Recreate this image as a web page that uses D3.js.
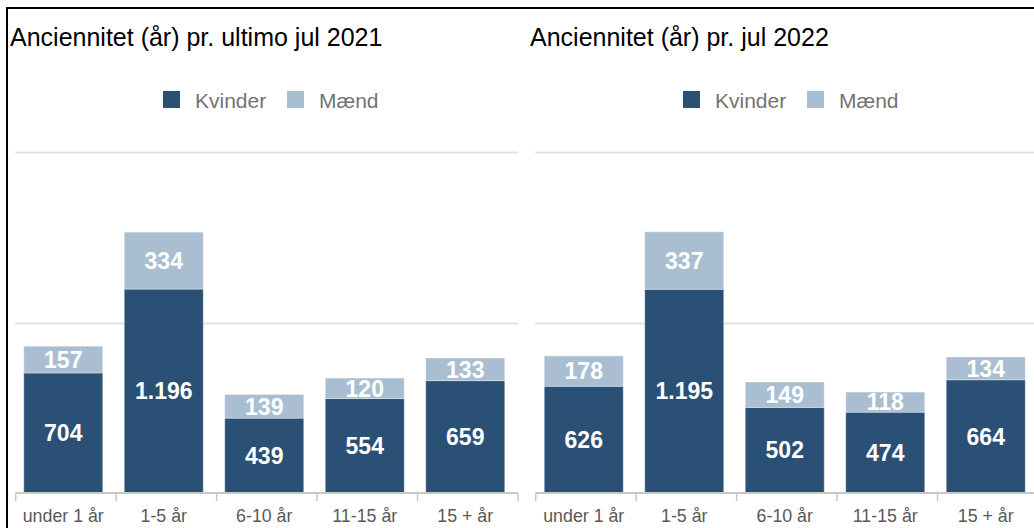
<!DOCTYPE html>
<html>
<head>
<meta charset="utf-8">
<script src="https://cdn.jsdelivr.net/npm/d3@7"></script>
<style>
  body { margin: 0; background: #fff; }
  svg { display: block; font-family: Arial, "Liberation Sans", sans-serif; }
</style>
</head>
<body>
<div id="chart"></div>
<script>
const categories = ["under 1 år", "1-5 år", "6-10 år", "11-15 år", "15 + år"];
const seriesNames = ["Kvinder", "Mænd"];

const kvinder2021 = [704, 1196, 439, 554, 659];
const maend2021 = [157, 334, 139, 120, 133];
const kvinder2022 = [626, 1195, 502, 474, 664];
const maend2022 = [178, 337, 149, 118, 134];

const titles = ["Anciennitet (år) pr. ultimo jul 2021", "Anciennitet (år) pr. jul 2022"];
const yTicks = [0, 1000, 2000];

const width = 1034, height = 528;
const color = d3.scaleOrdinal().domain(seriesNames).range(["#2a5075", "#a9bfd1"]);
const fmt = d3.formatLocale({ decimal: ",", thousands: ".", grouping: [3], currency: ["", " kr."] }).format(",d");

const svg = d3.select("#chart").append("svg")
  .attr("width", width)
  .attr("height", height);

// frame
svg.append("line").attr("x1", 6).attr("x2", width).attr("y1", 8).attr("y2", 8)
  .attr("stroke", "#000").attr("stroke-width", 2);
svg.append("line").attr("x1", 7).attr("x2", 7).attr("y1", 7).attr("y2", height)
  .attr("stroke", "#000").attr("stroke-width", 2);

const panels = [
  { title: titles[0], kv: kvinder2021, ma: maend2021, x0: 15.7, x1: 518, bx: 13, tx: 10, lx: 163 },
  { title: titles[1], kv: kvinder2022, ma: maend2022, x0: 535.7, x1: 1038, bx: 533.5, tx: 530, lx: 683 }
];

const y = d3.scaleLinear().domain([0, 2000]).range([493, 152]);

panels.forEach(p => {
  const g = svg.append("g");

  g.append("text")
    .attr("x", p.tx).attr("y", 46)
    .attr("font-size", 25)
    .attr("fill", "#000")
    .text(p.title);

  // legend
  const leg = g.append("g").attr("transform", `translate(${p.lx},91)`);
  const legOffsets = [0, 124];
  seriesNames.forEach((s, i) => {
    leg.append("rect").attr("x", legOffsets[i]).attr("y", 0)
      .attr("width", 17).attr("height", 17).attr("fill", color(s));
    leg.append("text").attr("x", legOffsets[i] + 32).attr("y", 17)
      .attr("font-size", 21).attr("fill", "#737373").text(s);
  });

  const x = d3.scaleBand().domain(categories)
    .range([p.bx, p.bx + 502.5]).paddingInner(0.214).paddingOuter(0.107);

  // gridlines
  g.selectAll(".grid")
    .data(yTicks.slice(1))
    .join("line")
    .attr("x1", p.x0 - 0.5).attr("x2", Math.min(p.x1, width))
    .attr("y1", d => Math.round(y(d)) + 0.5).attr("y2", d => Math.round(y(d)) + 0.5)
    .attr("stroke", "#e3e3e3").attr("stroke-width", 2);

  const rows = categories.map((c, i) => ({ cat: c, Kvinder: p.kv[i], Mænd: p.ma[i] }));
  const stacked = d3.stack().keys(seriesNames)(rows);

  const layer = g.selectAll(".layer")
    .data(stacked)
    .join("g")
    .attr("fill", d => color(d.key));

  layer.selectAll("rect")
    .data(d => d)
    .join("rect")
    .attr("x", d => x(d.data.cat))
    .attr("width", x.bandwidth())
    .attr("y", d => y(d[1]))
    .attr("height", d => y(d[0]) - y(d[1]))
    .attr("stroke", "#fff")
    .attr("stroke-opacity", 0.35)
    .attr("stroke-width", 1);

  layer.selectAll("text")
    .data(d => d.map(v => ({ v, key: d.key })))
    .join("text")
    .attr("x", d => x(d.v.data.cat) + x.bandwidth() / 2)
    .attr("y", d => (y(d.v[0]) + y(d.v[1])) / 2)
    .attr("dy", "0.36em")
    .attr("text-anchor", "middle")
    .attr("fill", "#fff")
    .attr("font-size", 23)
    .attr("font-weight", "bold")
    .text(d => fmt(d.v.data[d.key]));

  // x axis
  const ax = g.append("g")
    .attr("transform", `translate(0,${y(0)})`)
    .call(d3.axisBottom(x).tickSize(0).tickPadding(16));
  ax.select(".domain").attr("stroke", "#c8c8c8").attr("stroke-width", 2)
    .attr("d", `M${p.x0},0H${p.x1}`);
  ax.selectAll(".tick text").attr("font-size", 17.8).attr("fill", "#595959")
    .attr("font-family", "Arial, 'Liberation Sans', sans-serif");

  const edges = d3.range(categories.length + 1).map(i => p.x0 + i * (p.x1 - p.x0) / categories.length);
  ax.selectAll(".sep")
    .data(edges)
    .join("line")
    .attr("x1", d => d).attr("x2", d => d)
    .attr("y1", 0).attr("y2", 8)
    .attr("stroke", "#c8c8c8").attr("stroke-width", 1.5);
});
</script>
</body>
</html>
